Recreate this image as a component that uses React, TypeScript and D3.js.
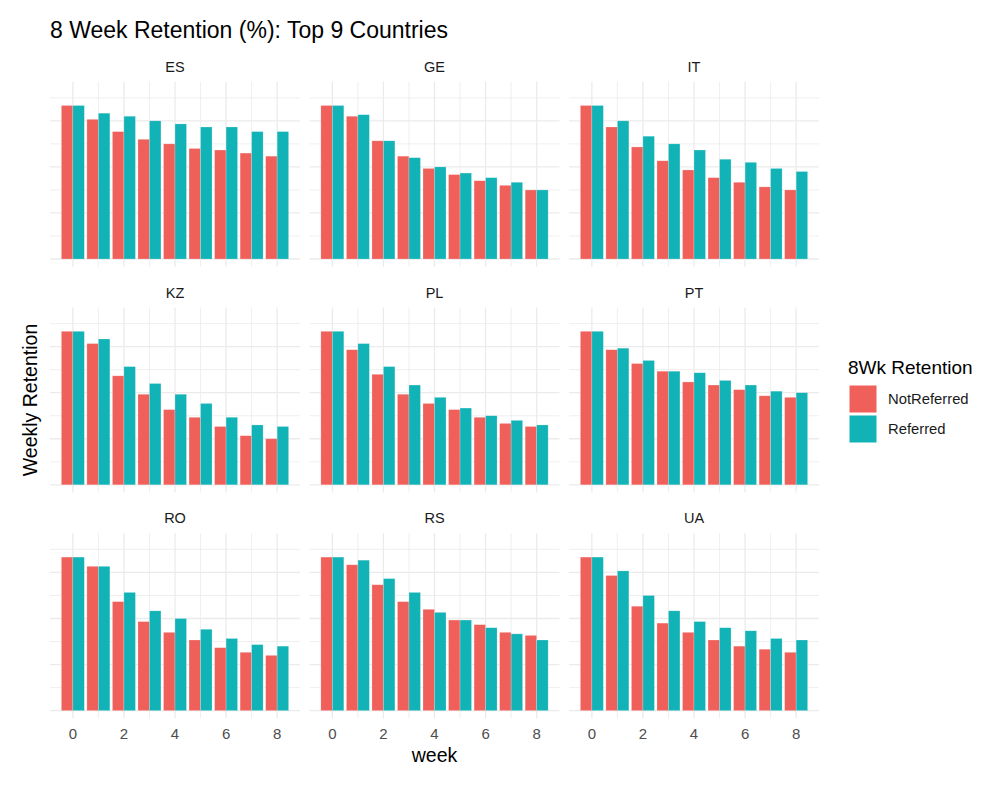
import { scaleLinear, range } from "d3";

// facet order (facet_wrap, 3 columns)
const countries = ["ES", "GE", "IT", "KZ", "PL", "PT", "RO", "RS", "UA"];
const weeks = [0, 1, 2, 3, 4, 5, 6, 7, 8];
const groups = ["NotReferred", "Referred"];
const groupColors = ["#F0605B", "#12B3B6"];

// weekly retention (%), one row per country in the order above
const notReferred: number[][] = [
  [100, 91, 83, 78, 75, 72, 71, 69, 67],
  [100, 93, 77, 67, 59, 55, 51, 48, 45],
  [100, 86, 73, 64, 58, 53, 50, 47, 45],
  [100, 92, 71, 59, 49, 44, 38, 32, 30],
  [100, 88, 72, 59, 53, 49, 44, 40, 38],
  [100, 88, 79, 74, 67, 65, 62, 58, 57],
  [100, 94, 71, 58, 51, 46, 41, 38, 36],
  [100, 95, 82, 71, 66, 59, 56, 51, 49],
  [100, 88, 68, 57, 51, 46, 42, 40, 38],
];

const referred: number[][] = [
  [100, 95, 93, 90, 88, 86, 86, 83, 83],
  [100, 94, 77, 66, 60, 56, 53, 50, 45],
  [100, 90, 80, 75, 71, 65, 63, 59, 57],
  [100, 95, 77, 66, 59, 53, 44, 39, 38],
  [100, 92, 77, 65, 57, 50, 45, 42, 39],
  [100, 89, 81, 74, 73, 68, 65, 61, 60],
  [100, 94, 77, 65, 60, 53, 47, 43, 42],
  [100, 98, 86, 77, 64, 59, 54, 50, 46],
  [100, 91, 75, 65, 58, 54, 52, 47, 46],
];

const yGrid = range(0, 106, 15);
const xMajor = [0, 2, 4, 6, 8];
const xMinor = [1, 3, 5, 7];

const W = 991;
const H = 800;
const panelW = 250;
const panelH = 185;
const panelLeft = 50;
const panelTop = 81.7;
const colStep = 259.5;
const rowStep = 225.8;
const barWidth = 0.9;
const font = "'Liberation Sans', Arial, Helvetica, sans-serif";

export default function App() {
  const x = scaleLinear().domain([-0.895, 8.895]).range([0, panelW]);
  const y = scaleLinear().domain([-5, 115.5]).range([panelH, 0]);
  const half = barWidth / 2;

  return (
    <svg
      width={W}
      height={H}
      style={{ position: "absolute", left: 0, top: 0, background: "#fff" }}
      fontFamily={font}
    >
      <text x={50} y={38} fontSize={23} fill="#000">
        8 Week Retention (%): Top 9 Countries
      </text>

      {countries.map((c, ci) => {
        const col = ci % 3;
        const row = Math.floor(ci / 3);
        const px = panelLeft + col * colStep;
        const py = panelTop + row * rowStep;
        const series = [notReferred[ci], referred[ci]];
        return (
          <g key={c} transform={`translate(${px},${py})`}>
            <text x={panelW / 2} y={-10} textAnchor="middle" fontSize={14.5} fill="#1a1a1a">
              {c}
            </text>
            {/* grid */}
            {yGrid.map((v, i) => (
              <line key={"h" + v} x1={0} x2={panelW} y1={y(v)} y2={y(v)}
                stroke="#ebebeb" strokeWidth={i % 2 === 0 ? 1.3 : 0.8} />
            ))}
            {xMinor.map((v) => (
              <line key={"vm" + v} x1={x(v)} x2={x(v)} y1={0} y2={panelH}
                stroke="#ebebeb" strokeWidth={0.8} />
            ))}
            {xMajor.map((v) => (
              <line key={"vM" + v} x1={x(v)} x2={x(v)} y1={0} y2={panelH}
                stroke="#ebebeb" strokeWidth={1.3} />
            ))}
            {/* bars */}
            {series.map((vals, si) =>
              vals.map((v, wi) => {
                const x0 = x(weeks[wi] - half + si * half);
                const x1 = x(weeks[wi] - half + (si + 1) * half);
                return (
                  <rect key={si + "-" + wi} x={x0} width={x1 - x0}
                    y={y(v)} height={y(0) - y(v)}
                    fill={groupColors[si]} stroke="#ffffff" strokeOpacity={0.35} strokeWidth={0.6} />
                );
              })
            )}
            {/* x tick labels on bottom row */}
            {row === 2 &&
              xMajor.map((v) => (
                <text key={"t" + v} x={x(v)} y={panelH + 21} textAnchor="middle"
                  fontSize={15} fill="#4d4d4d">
                  {v}
                </text>
              ))}
          </g>
        );
      })}

      <text x={panelLeft + colStep + panelW / 2} y={762} textAnchor="middle" fontSize={19.5} fill="#000">
        week
      </text>
      <text transform={`translate(37,${(panelTop + 2 * rowStep + panelH + panelTop) / 2}) rotate(-90)`}
        textAnchor="middle" fontSize={19.5} fill="#000">
        Weekly Retention
      </text>

      {/* legend */}
      <g transform="translate(848,374)">
        <text x={0} y={0} fontSize={19} fill="#000">8Wk Retention</text>
        {groups.map((g, i) => (
          <g key={g} transform={`translate(0,${11 + i * 30})`}>
            <rect x={1} y={0} width={28} height={28} fill={groupColors[i]} stroke="#fff" strokeWidth={1} />
            <text x={40} y={19} fontSize={14.8} fill="#1a1a1a">{g}</text>
          </g>
        ))}
      </g>
    </svg>
  );
}
